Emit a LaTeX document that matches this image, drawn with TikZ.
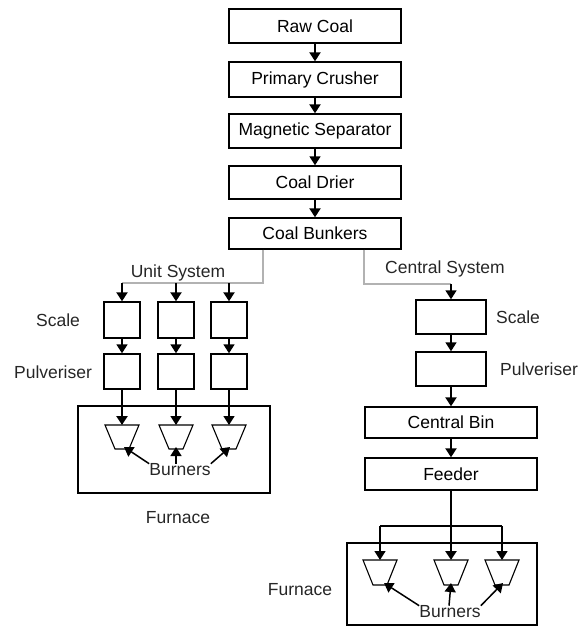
\documentclass[tikz,border=0pt]{standalone}
\usepackage{fontspec}
\setmainfont{Liberation Sans}
\usetikzlibrary{arrows.meta}
\newcommand{\myburner}[4]{%
  \draw[line width=1.1pt] (#2-17,#3) -- (#2+17,#3) -- (#2+7,#4) -- (#2-7,#4) -- cycle;
  \coordinate (#1t) at (#2,#3);
  \coordinate (#1b) at (#2,#4);
}
\begin{document}
\begin{tikzpicture}[x=1pt,y=-1pt,
  font=\fontsize{17.5}{20}\selectfont,
  box/.style={draw,line width=1.4pt,inner sep=0pt,minimum width=172pt},
  sbox/.style={draw,line width=1.4pt,inner sep=0pt,minimum width=36pt,minimum height=35pt},
  cbox/.style={draw,line width=1.4pt,inner sep=0pt,minimum width=70pt,minimum height=34pt},
  furn/.style={draw,line width=1.4pt,inner sep=0pt},
  flowarrow/.style={-{Triangle[width=11pt,length=9pt]}},
  thk/.style={flowarrow,line width=2.8pt},
  thn/.style={flowarrow,line width=1.5pt},
  feed/.style={line width=1.5pt,draw=gray!60},
  lbl/.style={inner sep=0pt,text=black!85}
]
\useasboundingbox (0,0) rectangle (581,628);
% main chain
\node[box,minimum height=34pt] (raw) at (315,26) {Raw Coal};
\node[box,minimum height=35pt] (crush) at (315,79.5) {Primary Crusher};
\node[box,minimum height=34pt] (mag) at (315,131) {Magnetic Separator};
\node[box,minimum height=33pt] (dry) at (315,182.5) {Coal Drier};
\node[box,minimum height=31pt] (bunk) at (315,233.5) {Coal Bunkers};
\draw[thk] (raw) -- (crush);
\draw[thk] (crush) -- (mag);
\draw[thn] (mag) -- (dry);
\draw[thk] (dry) -- (bunk);
% unit system
\coordinate (uL) at (263,283);
\coordinate (ua1) at (122,283);
\coordinate (ua2) at (176,283);
\coordinate (ua3) at (229,283);
\draw[feed] (bunk.south -| uL) -- (uL) -- (ua1);
\node[lbl] (ulab) at (178,273) {Unit System};
\node[sbox,minimum height=36pt] (s1) at (122,320) {};
\node[sbox,minimum height=36pt] (s2) at (176,320) {};
\node[sbox,minimum height=36pt] (s3) at (229,320) {};
\node[sbox] (p1) at (122,371.5) {};
\node[sbox] (p2) at (176,371.5) {};
\node[sbox] (p3) at (229,371.5) {};
\draw[thk] (ua1) -- (s1);
\draw[thk] (ua2) -- (s2);
\draw[thk] (ua3) -- (s3);
\draw[thn] (s1) -- (p1);
\draw[thn] (s2) -- (p2);
\draw[thn] (s3) -- (p3);
\node[lbl] (uscale) at (58,320) {Scale};
\node[lbl] (upulv) at (53,372) {Pulveriser};
\node[furn,minimum width=192pt,minimum height=87pt] (uf) at (174,449.5) {};
\myburner{b1}{122}{425}{449}
\myburner{b2}{176}{425}{449}
\myburner{b3}{229}{425}{449}
\draw[thk] (p1) -- (b1t);
\draw[thn] (p2) -- (b2t);
\draw[thn] (p3) -- (b3t);
\node[lbl] (ubl) at (180,470) {Burners};
\draw[thn] (ubl.north west) -- ([xshift=2pt,yshift=2pt]b1b);
\draw[thn] ([xshift=-4pt]ubl.north) -- ([yshift=2pt]b2b);
\draw[thn] (ubl.north east) -- ([xshift=1pt,yshift=2pt]b3b);
\node[lbl] (ufl) at (178,518) {Furnace};
% central system
\coordinate (cL) at (364,284);
\coordinate (cA) at (451,284);
\draw[feed] (bunk.south -| cL) -- (cL) -- (cA);
\node[lbl] (clab) at (445,269) {Central System};
\node[cbox] (cs) at (451,317) {};
\node[cbox] (cp) at (451,369) {};
\draw[thn] (cA) -- (cs);
\draw[thn] (cs) -- (cp);
\node[lbl] (cscale) at (518,317) {Scale};
\node[lbl] (cpulv) at (539,369) {Pulveriser};
\node[box,minimum height=31pt] (cbin) at (451,422.5) {Central Bin};
\node[box,minimum height=32pt] (feeder) at (451,474) {Feeder};
\draw[thk] (cp) -- (cbin);
\draw[thk] (cbin) -- (feeder);
\node[furn,minimum width=190pt,minimum height=82pt] (cf) at (442,584) {};
\myburner{cb1}{380}{560}{585}
\myburner{cb2}{451}{560}{585}
\myburner{cb3}{502}{560}{585}
\coordinate (cbl) at (380,526);
\coordinate (cbr) at (502,526);
\draw[thk] (feeder) -- (cb2t);
\draw[line width=1.5pt] (cbl) -- (cbr);
\draw[thn] (cbl) -- (cb1t);
\draw[thn] (cbr) -- (cb3t);
\node[lbl] (cbn) at (450,612) {Burners};
\draw[thn] (cbn.north west) -- ([xshift=4pt,yshift=2pt]cb1b);
\draw[thn] ([xshift=-1pt]cbn.north) -- ([yshift=2pt]cb2b);
\draw[thn] (cbn.north east) -- ([xshift=1pt,yshift=2pt]cb3b);
\node[lbl] (cfl) at (300,590) {Furnace};
\end{tikzpicture}
\end{document}
